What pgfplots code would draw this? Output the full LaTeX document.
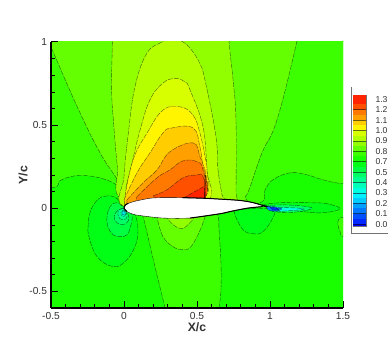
\documentclass[border=0pt]{standalone}
\usepackage{fontspec}
\setmainfont{Liberation Sans}
\usepackage{pgfplots}
\pgfplotsset{compat=1.18}
\definecolor{b0}{RGB}{255,35,0}
\definecolor{b1}{RGB}{255,80,0}
\definecolor{b2}{RGB}{255,120,0}
\definecolor{b3}{RGB}{255,160,0}
\definecolor{b4}{RGB}{255,205,0}
\definecolor{b5}{RGB}{255,245,0}
\definecolor{b6}{RGB}{215,255,0}
\definecolor{b7}{RGB}{180,255,0}
\definecolor{b8}{RGB}{145,255,0}
\definecolor{b9}{RGB}{100,255,0}
\definecolor{b10}{RGB}{60,255,0}
\definecolor{b11}{RGB}{25,255,0}
\definecolor{b12}{RGB}{0,255,20}
\definecolor{b13}{RGB}{0,255,65}
\definecolor{b14}{RGB}{0,255,100}
\definecolor{b15}{RGB}{0,255,145}
\definecolor{b16}{RGB}{0,255,185}
\definecolor{b17}{RGB}{0,255,225}
\definecolor{b18}{RGB}{0,240,255}
\definecolor{b19}{RGB}{0,205,255}
\definecolor{b20}{RGB}{0,160,255}
\definecolor{b21}{RGB}{0,120,255}
\definecolor{b22}{RGB}{0,80,255}
\definecolor{b23}{RGB}{0,40,255}
\definecolor{b24}{RGB}{0,0,255}
\definecolor{lab}{RGB}{50,50,50}
\definecolor{lgd}{RGB}{115,115,115}
\pgfplotsset{
  zone/.style={fill=#1, draw=black, draw opacity=0.6, line width=0.4pt, dash pattern=on 5pt off 1.2pt, smooth, tension=0.7},
  band/.style={fill=#1, draw=none},
}
\begin{document}
\begin{tikzpicture}[x=1pt,y=1pt]
\path[use as bounding box] (-51pt,-39pt) rectangle (339pt,308pt);
\begin{axis}[
  at={(0pt,0pt)}, anchor=south west,
  scale only axis, width=292pt, height=266pt,
  xmin=-0.5, xmax=1.5, ymin=-0.6, ymax=1,
  axis x line*=bottom, axis y line*=left,
  axis line style={line width=1.4pt, -},
  axis on top,
  xtick={-0.5,0,0.5,1,1.5}, xticklabels={-0.5,0,0.5,1,1.5},
  ytick={-0.5,0,0.5,1}, yticklabels={-0.5,0,0.5,1},
  minor x tick num=4, minor y tick num=4,
  tick align=inside,
  major tick length=6.5pt, minor tick length=4pt,
  every major tick/.style={black, line width=1pt},
  every minor tick/.style={black, line width=0.7pt},
  tick label style={font=\fontsize{10.2}{11}\selectfont, text=lab},
  xticklabel style={yshift=-0.5pt},
  yticklabel style={xshift=-0.5pt},
  xlabel={X/c}, ylabel={Y/c},
  every axis x label/.style={at={(axis description cs:0.5,0)}, anchor=center, yshift=-19pt, font=\fontsize{12.2}{13}\selectfont\bfseries, text=lab},
  every axis y label/.style={at={(axis description cs:-0.096,0.5)}, anchor=center, rotate=90, font=\fontsize{12.2}{13}\selectfont\bfseries, text=lab},
]
% base level
\addplot[band=b11] coordinates {(-0.7,-0.8)(1.7,-0.8)(1.7,1.2)(-0.7,1.2)} -- cycle;
% upper outer zone
\addplot[zone=b10] coordinates {(-0.8,0.11)(-0.493,0.123)(-0.438,0.165)(-0.37,0.189)(-0.295,0.197)(-0.219,0.192)(-0.164,0.183)(-0.075,0.153)(-0.027,0.111)(0,0.015)(0.5,0)(0.911,0.027)(0.966,0.111)(1.02,0.171)(1.137,0.213)(1.253,0.201)(1.363,0.171)(1.5,0.147)(1.8,0.12)(1.8,1.3)(-0.8,1.3)} -- cycle;
% lower zone
\addplot[zone=b10] coordinates {(0.1,0)(0.13,-0.05)(0.164,-0.171)(0.212,-0.351)(0.281,-0.6)(0.3,-0.68)(0.64,-0.68)(0.651,-0.6)(0.664,-0.49)(0.664,-0.327)(0.651,-0.129)(0.644,-0.045)(0.6,0)} -- cycle;
\addplot[zone=b10] coordinates {(1.6,-0.055)(1.5,-0.055)(1.47,-0.07)(1.465,-0.1)(1.48,-0.14)(1.5,-0.17)(1.6,-0.18)} -- cycle;
% leading edge stagnation rings
\addplot[zone=b12] coordinates {(-0.007,0.015)(-0.055,0.063)(-0.11,0.075)(-0.151,0.069)(-0.199,0.033)(-0.233,-0.027)(-0.245,-0.1)(-0.24,-0.171)(-0.185,-0.291)(-0.075,-0.351)(0.007,-0.321)(0.075,-0.231)(0.096,-0.129)(0.075,-0.039)(0.03,0)} -- cycle;
\addplot[zone=b13] coordinates {(-0.007,0.015)(-0.055,0.033)(-0.096,0.009)(-0.116,-0.051)(-0.11,-0.111)(-0.075,-0.159)(-0.027,-0.171)(0.021,-0.159)(0.048,-0.099)(0.055,-0.039)(0.02,-0.01)} -- cycle;
\addplot[zone=b14] coordinates {(0,0)(-0.04,-0.01)(-0.068,-0.051)(-0.048,-0.087)(-0.014,-0.099)(0.02,-0.087)(0.034,-0.057)(0.02,-0.021)} -- cycle;
\addplot[zone=b15] coordinates {(-0.003,-0.003)(-0.034,-0.009)(-0.041,-0.039)(-0.027,-0.063)(-0.007,-0.069)(0.014,-0.063)(0.02,-0.039)(0.007,-0.009)} -- cycle;
\addplot[zone=b16] coordinates {(-0.02,-0.021)(-0.02,-0.039)(-0.007,-0.051)(0.007,-0.045)(0.014,-0.027)(0,-0.009)} -- cycle;
\addplot[zone=b18] coordinates {(-0.012,-0.02)(-0.012,-0.035)(0,-0.04)(0.007,-0.03)(0.003,-0.015)} -- cycle;
% upper domes
\addplot[zone=b9] coordinates {(-0.6,1.17)(-0.5,0.97)(-0.32,0.61)(-0.164,0.333)(-0.014,0.123)(0,0.01)(0.4,0)(0.81,0.02)(0.829,0.069)(0.856,0.111)(0.945,0.333)(1.048,0.532)(1.183,1)(1.25,1.3)} -- cycle;
\addplot[zone=b8] coordinates {(-0.08,1.3)(-0.08,1)(-0.085,0.72)(-0.07,0.5)(-0.045,0.25)(-0.01,0.05)(0.4,0)(0.76,0.02)(0.767,0.111)(0.767,0.532)(0.747,0.772)(0.72,1)(0.7,1.3)} -- cycle;
\addplot[zone=b7] coordinates {(0.33,1.04)(0.26,1)(0.158,0.934)(0.075,0.73)(0.027,0.43)(0,0.19)(0,0.01)(0.4,0)(0.675,0.04)(0.671,0.081)(0.644,0.23)(0.63,0.43)(0.56,0.75)(0.52,0.87)(0.452,0.964)(0.404,1)} -- cycle;
\addplot[zone=b6] coordinates {(0.014,0.129)(0.055,0.273)(0.11,0.47)(0.178,0.652)(0.267,0.753)(0.35,0.78)(0.418,0.76)(0.452,0.712)(0.541,0.49)(0.568,0.23)(0.58,0.05)(0.3,0)(0.01,0.01)} -- cycle;
\addplot[zone=b5] coordinates {(0.007,0.07)(0.062,0.291)(0.158,0.453)(0.267,0.59)(0.384,0.61)(0.473,0.56)(0.52,0.453)(0.555,0.31)(0.568,0.23)(0.555,0.07)(0.3,0)(0.004,0.01)} -- cycle;
\addplot[zone=b4] coordinates {(0,0.05)(0.089,0.213)(0.178,0.333)(0.267,0.453)(0.329,0.483)(0.473,0.483)(0.52,0.37)(0.541,0.25)(0.555,0.23)(0.55,0.07)(0.3,0)(0.01,0.01)} -- cycle;
\addplot[zone=b3] coordinates {(0.02,0.05)(0.13,0.153)(0.226,0.231)(0.315,0.34)(0.473,0.393)(0.52,0.31)(0.548,0.23)(0.55,0.07)(0.3,0)(0.02,0.01)} -- cycle;
\addplot[zone=b2] coordinates {(0.089,0.07)(0.226,0.183)(0.315,0.231)(0.404,0.285)(0.5,0.28)(0.541,0.23)(0.55,0.07)(0.3,0)(0.07,0.01)} -- cycle;
\addplot[zone=b1] coordinates {(0.199,0.075)(0.295,0.111)(0.404,0.183)(0.5,0.2)(0.541,0.19)(0.55,0.06)(0.3,0)} -- cycle;
\addplot[zone=b0] coordinates {(0.404,0.06)(0.52,0.117)(0.548,0.123)(0.55,0.05)(0.45,0.02)} -- cycle;
% lower domes
\addplot[zone=b9] coordinates {(0.226,-0.04)(0.226,-0.057)(0.267,-0.171)(0.336,-0.231)(0.397,-0.249)(0.452,-0.237)(0.507,-0.159)(0.555,-0.051)(0.55,-0.02)} -- cycle;
\addplot[zone=b8] coordinates {(0.295,-0.04)(0.295,-0.057)(0.336,-0.099)(0.397,-0.123)(0.452,-0.087)(0.48,-0.057)(0.48,-0.04)} -- cycle;
% wake
\addplot[zone=b12] coordinates {(0.76,-0.01)(0.76,-0.04)(0.815,-0.129)(0.884,-0.153)(0.952,-0.141)(1.02,-0.057)(1.02,-0.01)(0.9,0)} -- cycle;
\addplot[zone=b12] coordinates {(0.945,0.021)(1.068,0.033)(1.274,0.033)(1.39,0.027)(1.48,-0.003)(1.363,-0.027)(1.226,-0.021)(1.02,-0.009)} -- cycle;
\addplot[zone=b14] coordinates {(0.96,0.015)(1.1,0.02)(1.25,0.01)(1.28,-0.005)(1.15,-0.025)(1.02,-0.02)} -- cycle;
\addplot[zone=b17] coordinates {(0.97,0.012)(1.08,0.005)(1.2,0)(1.22,-0.008)(1.05,-0.02)} -- cycle;
\addplot[zone=b21] coordinates {(0.97,0.01)(1.03,0.008)(1.08,-0.005)(1.03,-0.018)(0.99,-0.012)} -- cycle;
\addplot[zone=b23] coordinates {(1,0.005)(1.04,0.002)(1.06,-0.008)(1.02,-0.012)} -- cycle;
% shock
\addplot[black, line width=0.7pt] coordinates {(0.556,0.2)(0.553,0.06)};
% airfoil
\addplot[fill=white, draw=black, line width=0.4pt, smooth, tension=0.5] coordinates {(0,0)(0.01,0.02)(0.03,0.03)(0.075,0.042)(0.15,0.056)(0.2,0.062)(0.3,0.064)(0.452,0.062)(0.55,0.06)(0.657,0.055)(0.794,0.047)(0.884,0.034)(0.93,0.022)(0.98,0.01)(0.95,0.01)(0.842,0)(0.726,-0.02)(0.678,-0.03)(0.568,-0.045)(0.452,-0.059)(0.3,-0.06)(0.212,-0.055)(0.075,-0.039)(0.02,-0.02)} -- cycle;
\addplot[black, line width=1pt, smooth, tension=0.5] coordinates {(0.4,0.064)(0.55,0.06)(0.657,0.055)(0.794,0.047)(0.884,0.034)(0.93,0.022)(0.98,0.01)};
\addplot[black, line width=1pt, smooth, tension=0.5] coordinates {(0.452,-0.059)(0.568,-0.045)(0.678,-0.03)(0.726,-0.02)(0.842,0)(0.95,0.01)};
\addplot[black, line width=1pt, smooth, tension=0.5] coordinates {(0.03,0.03)(0.01,0.02)(0,0)(0.02,-0.02)};
\end{axis}
% contour legend
\begin{axis}[
  at={(302pt,82pt)}, anchor=south west,
  scale only axis, width=13pt, height=131pt,
  xmin=0, xmax=13, ymin=0, ymax=131,
  clip=false,
  axis line style={draw=lgd, line width=0.7pt},
  xtick=\empty,
  ytick={126.7,116.3,105.9,95.5,85.1,74.7,64.3,53.9,43.5,33.1,22.7,12.3,1.9},
  yticklabels={1.3,1.2,1.1,1.0,0.9,0.8,0.7,0.5,0.4,0.3,0.2,0.1,0.0},
  yticklabel pos=right,
  major tick length=0pt,
  tick label style={font=\fontsize{8.6}{10}\selectfont, text=lab},
  yticklabel style={anchor=west, xshift=6pt},
]
\addplot[band=b0] coordinates {(0,121.6)(13,121.6)(13,131)(0,131)} -- cycle;
\addplot[band=b1] coordinates {(0,116.4)(13,116.4)(13,121.6)(0,121.6)} -- cycle;
\addplot[band=b2] coordinates {(0,111.2)(13,111.2)(13,116.4)(0,116.4)} -- cycle;
\addplot[band=b3] coordinates {(0,106)(13,106)(13,111.2)(0,111.2)} -- cycle;
\addplot[band=b4] coordinates {(0,100.8)(13,100.8)(13,106)(0,106)} -- cycle;
\addplot[band=b5] coordinates {(0,95.6)(13,95.6)(13,100.8)(0,100.8)} -- cycle;
\addplot[band=b6] coordinates {(0,90.4)(13,90.4)(13,95.6)(0,95.6)} -- cycle;
\addplot[band=b7] coordinates {(0,85.2)(13,85.2)(13,90.4)(0,90.4)} -- cycle;
\addplot[band=b8] coordinates {(0,80)(13,80)(13,85.2)(0,85.2)} -- cycle;
\addplot[band=b9] coordinates {(0,74.8)(13,74.8)(13,80)(0,80)} -- cycle;
\addplot[band=b10] coordinates {(0,69.6)(13,69.6)(13,74.8)(0,74.8)} -- cycle;
\addplot[band=b11] coordinates {(0,64.4)(13,64.4)(13,69.6)(0,69.6)} -- cycle;
\addplot[band=b12] coordinates {(0,59.2)(13,59.2)(13,64.4)(0,64.4)} -- cycle;
\addplot[band=b13] coordinates {(0,54)(13,54)(13,59.2)(0,59.2)} -- cycle;
\addplot[band=b14] coordinates {(0,48.8)(13,48.8)(13,54)(0,54)} -- cycle;
\addplot[band=b15] coordinates {(0,43.6)(13,43.6)(13,48.8)(0,48.8)} -- cycle;
\addplot[band=b16] coordinates {(0,38.4)(13,38.4)(13,43.6)(0,43.6)} -- cycle;
\addplot[band=b17] coordinates {(0,33.2)(13,33.2)(13,38.4)(0,38.4)} -- cycle;
\addplot[band=b18] coordinates {(0,28)(13,28)(13,33.2)(0,33.2)} -- cycle;
\addplot[band=b19] coordinates {(0,22.8)(13,22.8)(13,28)(0,28)} -- cycle;
\addplot[band=b20] coordinates {(0,17.6)(13,17.6)(13,22.8)(0,22.8)} -- cycle;
\addplot[band=b21] coordinates {(0,12.4)(13,12.4)(13,17.6)(0,17.6)} -- cycle;
\addplot[band=b22] coordinates {(0,7.2)(13,7.2)(13,12.4)(0,12.4)} -- cycle;
\addplot[band=b23] coordinates {(0,2)(13,2)(13,7.2)(0,7.2)} -- cycle;
\addplot[band=b24] coordinates {(0,0)(13,0)(13,2)(0,2)} -- cycle;
\foreach \v in {2,12.4,22.8,33.2,43.6,54,64.4,74.8,85.2,95.6,106,116.4} {
  \edef\tmp{\noexpand\addplot[black, draw opacity=0.55, line width=0.5pt] coordinates {(0,\v)(13,\v)};}
  \tmp
}
\addplot[lgd, line width=0.9pt] coordinates {(-2,139)(-2,-7)(35,-7)};
\end{axis}
\end{tikzpicture}
\end{document}
